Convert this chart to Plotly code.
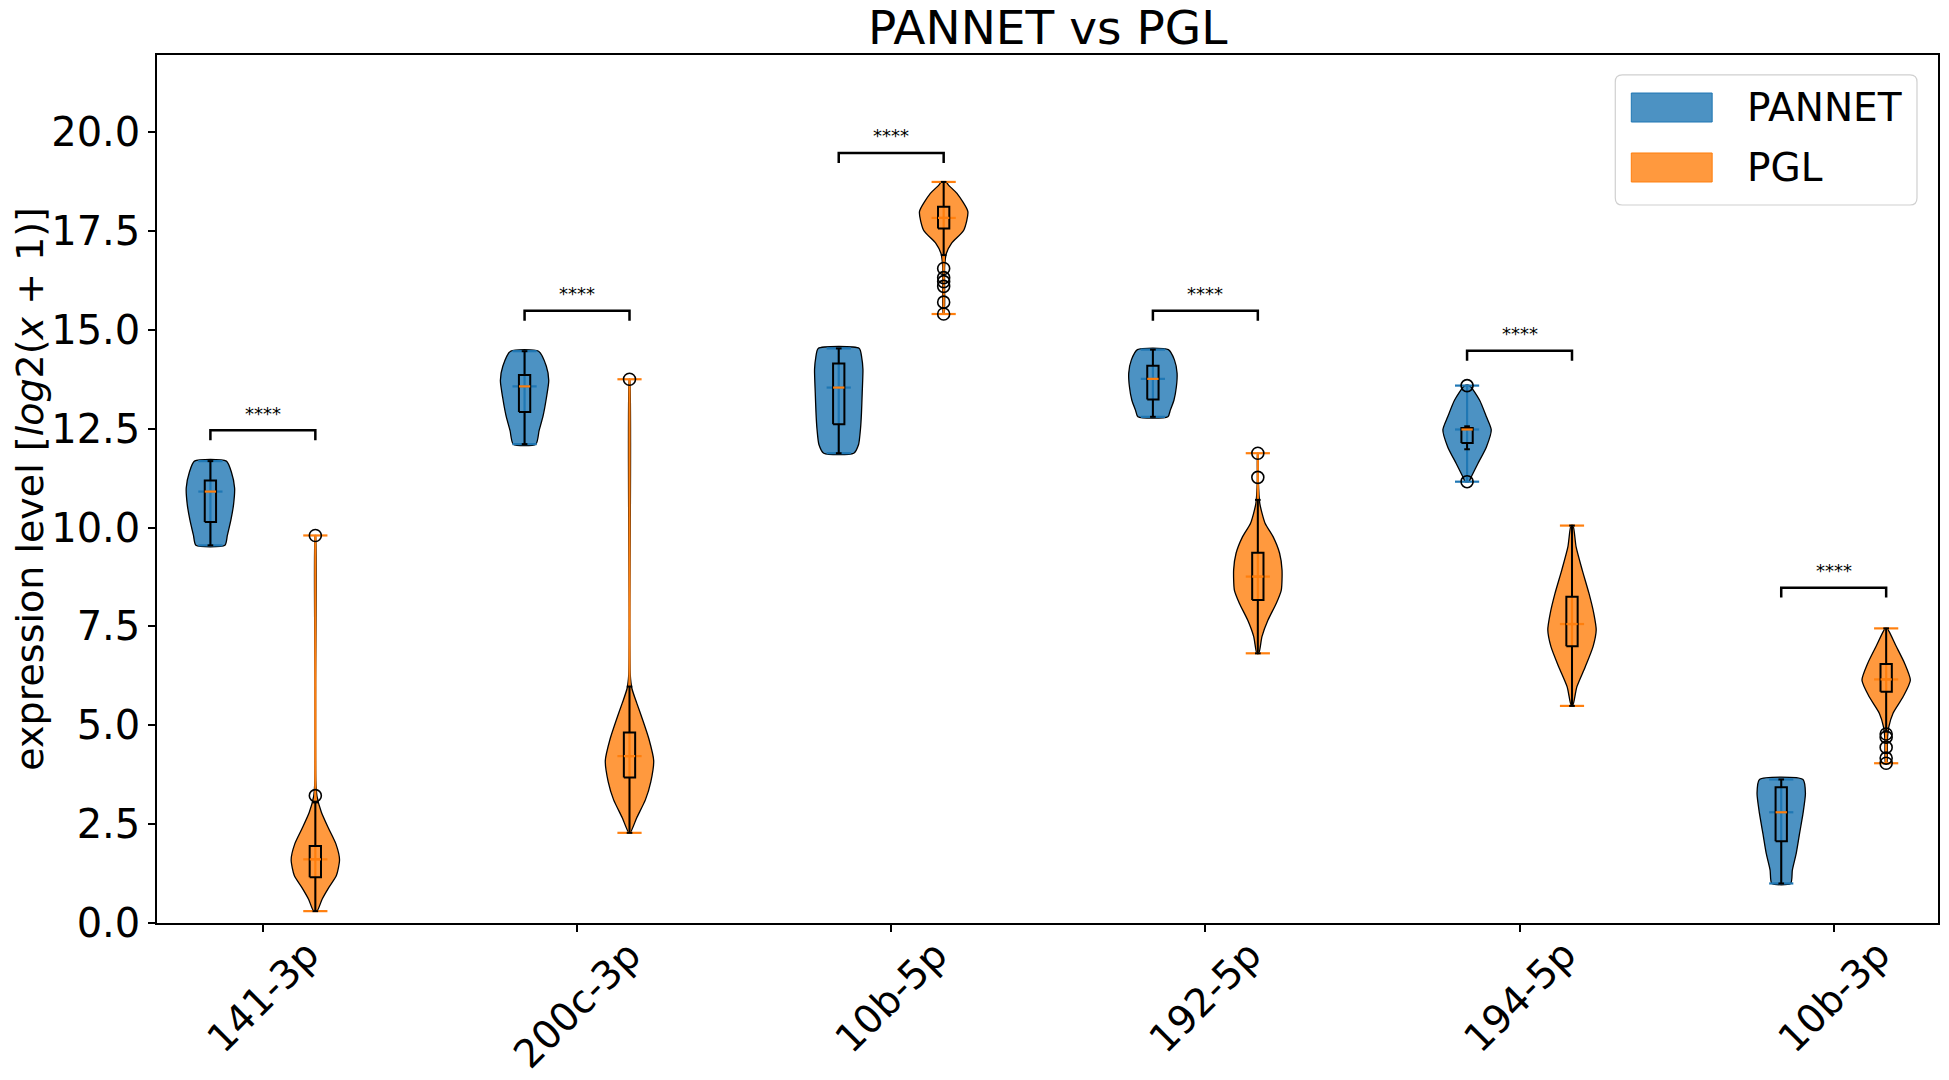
import plotly.graph_objects as go

# miRNA names on the x axis
mirnas = ["141-3p", "200c-3p", "10b-5p", "192-5p", "194-5p", "10b-3p"]
groups = ["PANNET", "PGL"]

# PANNET summary values
pannet_min = [9.55, 12.11, 11.88, 12.80, 11.16, 1.00]
pannet_max = [11.68, 14.46, 14.53, 14.50, 13.59, 3.63]
pannet_q1 = [10.14, 12.92, 12.61, 13.24, 12.14, 2.07]
pannet_median = [10.91, 13.57, 13.54, 13.76, 12.48, 2.80]
pannet_q3 = [11.19, 13.86, 14.15, 14.09, 12.52, 3.43]
pannet_whisk_lo = [9.55, 12.11, 11.88, 12.80, 11.98, 1.00]
pannet_whisk_hi = [11.68, 14.46, 14.53, 14.50, 12.56, 3.63]
pannet_fliers = [[], [], [], [], [13.59, 11.16], []]
# violin outline: levels and relative half-width
pannet_kde_y = [
    [9.55, 9.8, 10.2, 10.6, 11.0, 11.4, 11.68],
    [12.11, 12.45, 12.81, 13.27, 13.72, 14.08, 14.46],
    [11.88, 12.1, 12.5, 12.9, 13.4, 14.0, 14.3, 14.53],
    [12.8, 12.97, 13.22, 13.56, 13.9, 14.24, 14.5],
    [11.16, 11.28, 11.62, 12.04, 12.47, 12.8, 13.22, 13.59],
    [1.0, 1.34, 1.76, 2.27, 2.77, 3.28, 3.63],
]
pannet_kde_w = [
    [0.6, 0.7, 0.85, 0.96, 1.0, 0.87, 0.66],
    [0.47, 0.6, 0.76, 0.9, 1.0, 0.9, 0.58],
    [0.62, 0.82, 0.9, 0.94, 0.97, 1.0, 0.95, 0.85],
    [0.62, 0.72, 0.87, 0.97, 1.0, 0.89, 0.64],
    [0.08, 0.17, 0.45, 0.8, 1.0, 0.8, 0.52, 0.1],
    [0.39, 0.46, 0.62, 0.76, 0.9, 1.0, 0.9],
]

# PGL summary values
pgl_min = [0.30, 2.28, 15.40, 6.82, 5.49, 4.04]
pgl_max = [9.80, 13.75, 18.74, 11.88, 10.05, 7.45]
pgl_q1 = [1.16, 3.68, 17.56, 8.17, 7.00, 5.85]
pgl_median = [1.61, 4.22, 17.83, 8.76, 7.56, 6.16]
pgl_q3 = [1.95, 4.82, 18.11, 9.36, 8.25, 6.55]
pgl_whisk_lo = [0.30, 2.28, 16.89, 6.82, 5.49, 4.84]
pgl_whisk_hi = [3.05, 5.98, 18.74, 10.70, 10.05, 7.45]
pgl_fliers = [[3.22, 9.80], [13.75], [16.55, 16.32, 16.22, 16.1, 15.7, 15.4],
              [11.27, 11.88], [], [4.78, 4.70, 4.44, 4.17, 4.04]]
pgl_kde_y = [
    [0.3, 0.6, 0.9, 1.2, 1.6, 2.0, 2.4, 2.8, 3.2, 3.6, 6.0, 9.8],
    [2.28, 2.66, 3.12, 3.57, 4.11, 4.66, 5.11, 5.56, 5.93, 6.29, 7.5, 13.75],
    [15.4, 16.6, 16.93, 17.19, 17.52, 17.99, 18.45, 18.66, 18.74],
    [6.82, 7.24, 7.66, 8.08, 8.42, 8.93, 9.35, 9.77, 10.11, 10.61, 11.2, 11.88],
    [5.49, 5.97, 6.48, 6.99, 7.41, 7.83, 8.34, 8.93, 9.51, 10.05],
    [4.04, 4.63, 4.96, 5.3, 5.72, 6.14, 6.57, 6.99, 7.45],
]
pgl_kde_w = [
    [0.07, 0.28, 0.56, 0.87, 1.0, 0.85, 0.54, 0.25, 0.07, 0.02, 0.01, 0.01],
    [0.03, 0.3, 0.66, 0.88, 1.0, 0.8, 0.56, 0.3, 0.1, 0.03, 0.01, 0.01],
    [0.02, 0.04, 0.11, 0.33, 0.83, 1.0, 0.55, 0.2, 0.1],
    [0.04, 0.17, 0.42, 0.76, 0.97, 1.0, 0.9, 0.63, 0.3, 0.08, 0.02, 0.01],
    [0.03, 0.2, 0.55, 0.87, 1.0, 0.9, 0.7, 0.42, 0.17, 0.04],
    [0.03, 0.05, 0.11, 0.28, 0.7, 1.0, 0.76, 0.42, 0.04],
]

# significance brackets
bracket_y = [12.46, 15.48, 19.47, 15.48, 14.47, 8.48]
bracket_text = ["****"] * 6

FONT = "DejaVu Sans"
HALF = 0.077      # max half width of a violin (x units)
OFFSET = 0.167    # shift of each group from the tick
BOX_W = 0.036
FILLS = ["rgba(31,119,180,0.8)", "rgba(255,127,14,0.8)"]
COLS = ["#1f77b4", "#ff7f0e"]

fig = go.Figure()


def add_group(shift, fill, col, mins, maxs, q1, med, q3, wlo, whi, fliers, kde_y, kde_w):
    pos = [i + shift for i in range(len(mirnas))]
    # bodies
    for i, p in enumerate(pos):
        ys, ws = kde_y[i], kde_w[i]
        xs = [p + HALF * w for w in ws] + [p - HALF * w for w in ws[::-1]]
        yy = list(ys) + list(ys[::-1])
        fig.add_trace(go.Scatter(
            x=xs + [xs[0]], y=yy + [yy[0]], mode="lines", fill="toself", fillcolor=fill,
            line=dict(color="black", width=1.3, shape="spline", smoothing=0.6),
            showlegend=False, hoverinfo="skip"))
    # bars, extrema and medians of the violins
    lx, ly = [], []
    for i, p in enumerate(pos):
        lx += [p, p, None]
        ly += [mins[i], maxs[i], None]
        for v in (mins[i], maxs[i], med[i]):
            lx += [p - HALF / 2, p + HALF / 2, None]
            ly += [v, v, None]
    fig.add_trace(go.Scatter(x=lx, y=ly, mode="lines", line=dict(color=col, width=2.2),
                             showlegend=False, hoverinfo="skip"))
    # box plot on top (box, whiskers, caps)
    bx, by = [], []
    for i, p in enumerate(pos):
        l, r = p - BOX_W / 2, p + BOX_W / 2
        bx += [l, r, r, l, l, None]
        by += [q1[i], q1[i], q3[i], q3[i], q1[i], None]
        bx += [p, p, None, p, p, None]
        by += [q1[i], wlo[i], None, q3[i], whi[i], None]
        for v in (wlo[i], whi[i]):
            bx += [p - BOX_W / 4, p + BOX_W / 4, None]
            by += [v, v, None]
    fig.add_trace(go.Scatter(x=bx, y=by, mode="lines", line=dict(color="black", width=2),
                             showlegend=False, hoverinfo="skip"))
    mx, my = [], []
    for i, p in enumerate(pos):
        mx += [p - BOX_W / 2, p + BOX_W / 2, None]
        my += [med[i], med[i], None]
    fig.add_trace(go.Scatter(x=mx, y=my, mode="lines", line=dict(color="#ff7f0e", width=2.2),
                             showlegend=False, hoverinfo="skip"))
    fx, fy = [], []
    for i, p in enumerate(pos):
        fx += [p] * len(fliers[i])
        fy += fliers[i]
    fig.add_trace(go.Scatter(x=fx, y=fy, mode="markers",
                             marker=dict(symbol="circle-open", size=12, color="black",
                                         line=dict(width=1.6)),
                             showlegend=False, hoverinfo="skip"))


add_group(-OFFSET, FILLS[0], COLS[0], pannet_min, pannet_max, pannet_q1,
          pannet_median, pannet_q3, pannet_whisk_lo, pannet_whisk_hi, pannet_fliers,
          pannet_kde_y, pannet_kde_w)
add_group(OFFSET, FILLS[1], COLS[1], pgl_min, pgl_max, pgl_q1,
          pgl_median, pgl_q3, pgl_whisk_lo, pgl_whisk_hi, pgl_fliers,
          pgl_kde_y, pgl_kde_w)

# brackets
bx, by = [], []
for i, h in enumerate(bracket_y):
    bx += [i - OFFSET, i - OFFSET, i + OFFSET, i + OFFSET, None]
    by += [h - 0.25, h, h, h - 0.25, None]
fig.add_trace(go.Scatter(x=bx, y=by, mode="lines", line=dict(color="black", width=2.5),
                         showlegend=False, hoverinfo="skip"))
for i, h in enumerate(bracket_y):
    fig.add_annotation(x=i, y=h + 0.12, text=bracket_text[i], showarrow=False,
                       xanchor="center", yanchor="bottom", font=dict(size=18, color="black"))

# rotated tick labels
for i, m in enumerate(mirnas):
    fig.add_annotation(x=i, y=0, xref="x", yref="paper", text=m, showarrow=False,
                       textangle=-45, xanchor="center", yanchor="top", yshift=-6,
                       font=dict(size=39, color="black"))

# y axis label
fig.add_annotation(x=-0.0715, y=0.5, xref="paper", yref="paper", showarrow=False,
                   text="expression level [<i>log</i>2(<i>x</i> + 1)]", textangle=-90,
                   xanchor="center", yanchor="middle", font=dict(size=38, color="black"))

# title
fig.add_annotation(x=0.5, y=0.998, xref="paper", yref="paper", showarrow=False,
                   text="PANNET vs PGL", xanchor="center", yanchor="bottom",
                   font=dict(size=47, color="black"))

# legend drawn as a framed box with colour patches
lx0, lx1, ly0, ly1 = 0.8188, 0.9882, 0.8272, 0.977
rx, ry = 7 / 1783, 7 / 868
fig.add_shape(type="path", xref="paper", yref="paper",
              path=(f"M {lx0 + rx},{ly0} L {lx1 - rx},{ly0} Q {lx1},{ly0} {lx1},{ly0 + ry} "
                    f"L {lx1},{ly1 - ry} Q {lx1},{ly1} {lx1 - rx},{ly1} "
                    f"L {lx0 + rx},{ly1} Q {lx0},{ly1} {lx0},{ly1 - ry} "
                    f"L {lx0},{ly0 + ry} Q {lx0},{ly0} {lx0 + rx},{ly0} Z"),
              line=dict(color="#d0d0d0", width=1.2), fillcolor="rgba(255,255,255,0.8)")
patch_y = [(0.9228, 0.9562), (0.8537, 0.8871)]
for k, name in enumerate(groups):
    fig.add_shape(type="rect", xref="paper", yref="paper", x0=0.8278, x1=0.8732,
                  y0=patch_y[k][0], y1=patch_y[k][1], fillcolor=FILLS[k],
                  line=dict(color=COLS[k], width=1))
    fig.add_annotation(x=0.8918, y=(patch_y[k][0] + patch_y[k][1]) / 2, xref="paper",
                       yref="paper", text=name, showarrow=False, xanchor="left",
                       yanchor="middle", font=dict(size=39, color="black"))

# page body has an 8px margin, so the figure is shifted by that much
fig.update_layout(
    width=1941, height=1072,
    margin=dict(l=149, r=9, t=47, b=157),
    plot_bgcolor="white", paper_bgcolor="white",
    font=dict(family=FONT, color="black"),
    showlegend=False,
)
fig.update_xaxes(range=[-0.337, 5.332], tickvals=list(range(len(mirnas))), showticklabels=False,
                 ticks="outside", ticklen=7, tickwidth=1.5, tickcolor="black",
                 showline=True, linecolor="black", linewidth=1.5, mirror=True,
                 showgrid=False, zeroline=False)
fig.update_yaxes(range=[0, 21.95], dtick=2.5, tick0=0, tickformat=".1f",
                 ticks="outside", ticklen=7, tickwidth=1.5, tickcolor="black",
                 tickfont=dict(size=40, color="black"),
                 showline=True, linecolor="black", linewidth=1.5, mirror=True,
                 showgrid=False, zeroline=False)

fig.write_html("out.html")
